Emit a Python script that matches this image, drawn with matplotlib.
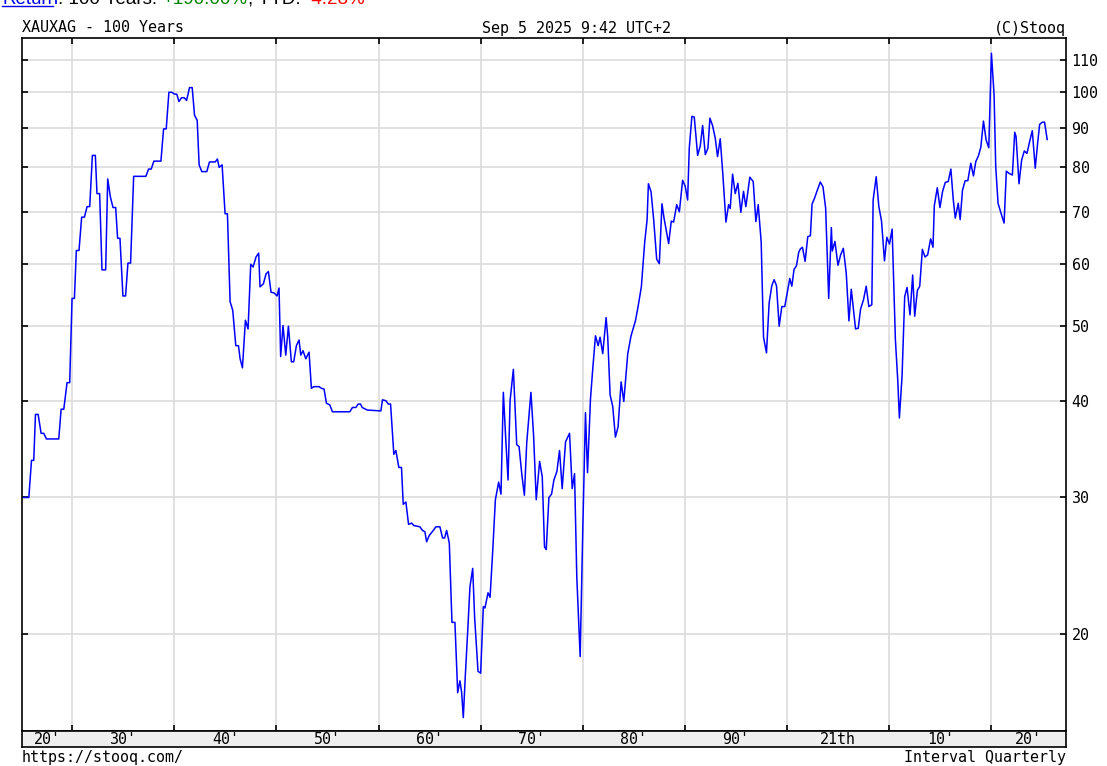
import matplotlib
matplotlib.use("Agg")
import matplotlib.pyplot as plt
from matplotlib.ticker import FixedLocator, NullLocator, FixedFormatter
from matplotlib.lines import Line2D

# ---------------- data ----------------
years = [
    1925.21, 1925.77, 1926.03, 1926.25, 1926.42, 1926.68, 1926.97, 1927.23, 1927.49, 1928.70,
    1928.93, 1929.19, 1929.51, 1929.77, 1930.00, 1930.23, 1930.42, 1930.68, 1930.94, 1931.21,
    1931.47, 1931.73, 1931.99, 1932.28, 1932.44, 1932.70, 1932.93, 1933.29, 1933.49, 1933.75,
    1934.01, 1934.27, 1934.46, 1934.69, 1934.98, 1935.24, 1935.47, 1935.73, 1936.03, 1937.23,
    1937.49, 1937.75, 1938.01, 1938.70, 1938.96, 1939.22, 1939.48, 1939.77, 1940.00, 1940.26,
    1940.46, 1940.72, 1940.98, 1941.21, 1941.50, 1941.76, 1941.99, 1942.25, 1942.44, 1942.70,
    1943.19, 1943.45, 1944.01, 1944.23, 1944.40, 1944.69, 1944.98, 1945.21, 1945.47, 1945.73,
    1946.03, 1946.29, 1946.45, 1946.68, 1946.97, 1947.23, 1947.49, 1947.72, 1948.01, 1948.27,
    1948.40, 1948.73, 1948.99, 1949.22, 1949.48, 1949.77,
    1950.07, 1950.26, 1950.42, 1950.65, 1950.92, 1951.18, 1951.47, 1951.70, 1951.96, 1952.22,
    1952.39, 1952.61, 1952.88, 1953.20, 1953.43, 1953.66, 1954.18, 1954.41, 1954.67, 1954.90,
    1955.23, 1955.49, 1957.19, 1957.45, 1957.78, 1958.01, 1958.24, 1958.40, 1958.73, 1958.92,
    1960.23, 1960.39, 1960.72, 1960.95, 1961.18, 1961.50, 1961.70, 1961.99, 1962.25, 1962.42,
    1962.68, 1962.94, 1963.24, 1963.46, 1964.05, 1964.31, 1964.54, 1964.71, 1964.97, 1965.36,
    1965.62, 1966.01, 1966.27, 1966.47, 1966.67, 1966.93, 1967.19, 1967.48, 1967.75, 1967.97,
    1968.14, 1968.30, 1968.50, 1968.76, 1968.95, 1969.22, 1969.41, 1969.74, 1970.00, 1970.26,
    1970.42, 1970.72, 1970.92, 1971.18, 1971.44, 1971.76, 1971.99, 1972.22, 1972.45, 1972.68,
    1972.88, 1973.20, 1973.53, 1973.76, 1974.02, 1974.28, 1974.51, 1974.92,
    1975.18, 1975.44, 1975.77, 1976.03, 1976.25, 1976.42, 1976.68, 1976.94, 1977.17, 1977.46,
    1977.72, 1977.98, 1978.31, 1978.70, 1978.96, 1979.19, 1979.41, 1979.74, 1980.00, 1980.26,
    1980.46, 1980.75, 1980.98, 1981.24, 1981.50, 1981.69, 1981.95, 1982.28, 1982.44, 1982.67,
    1982.93, 1983.19, 1983.45, 1983.75, 1984.01, 1984.40, 1984.72, 1985.15, 1985.41, 1985.73,
    1986.06, 1986.29, 1986.42, 1986.68, 1986.94, 1987.23, 1987.49, 1987.75, 1987.95, 1988.14,
    1988.40, 1988.66, 1988.89, 1989.19, 1989.45, 1989.77, 1990.03, 1990.26, 1990.42, 1990.68,
    1990.91, 1991.24, 1991.50, 1991.73, 1991.99, 1992.25, 1992.44, 1992.70, 1992.96, 1993.19,
    1993.45, 1993.71, 1994.01, 1994.27, 1994.43, 1994.66, 1994.92, 1995.18, 1995.47, 1995.73,
    1995.96, 1996.35, 1996.68, 1996.94, 1997.17, 1997.46, 1997.69, 1997.98, 1998.24, 1998.50,
    1998.73, 1998.96, 1999.22, 1999.48, 1999.77,
    2000.00, 2000.26, 2000.46, 2000.68, 2000.91, 2001.14, 2001.30, 2001.50, 2001.76, 2002.02,
    2002.28, 2002.44, 2002.70, 2002.96, 2003.25, 2003.51, 2003.77, 2004.07, 2004.33, 2004.42,
    2004.68, 2004.98, 2005.24, 2005.50, 2005.79, 2006.05, 2006.28, 2006.50, 2006.70, 2006.96,
    2007.19, 2007.48, 2007.74, 2008.00, 2008.29, 2008.42, 2008.72, 2008.98, 2009.24, 2009.53,
    2009.76, 2010.02, 2010.28, 2010.60, 2010.83, 2010.99, 2011.25, 2011.51, 2011.74, 2012.03,
    2012.29, 2012.49, 2012.75, 2012.98, 2013.24, 2013.50, 2013.76, 2014.05, 2014.28, 2014.41,
    2014.70, 2014.96, 2015.22, 2015.48, 2015.77, 2016.03, 2016.26, 2016.46, 2016.75, 2016.94,
    2017.17, 2017.43, 2017.69, 2017.98, 2018.24, 2018.47, 2018.73, 2018.96, 2019.22, 2019.48,
    2019.74, 2020.00, 2020.26, 2020.42, 2020.65, 2020.94, 2021.24, 2021.46, 2021.72, 2022.05,
    2022.28, 2022.41, 2022.70, 2022.96, 2023.22, 2023.48, 2023.74, 2024.00, 2024.29, 2024.52,
    2024.72, 2024.98, 2025.20, 2025.46,
]
ratio = [
    30.0, 30.0, 33.5, 33.5, 38.4, 38.4, 36.3, 36.3, 35.7, 35.7,
    39.0, 39.0, 42.2, 42.2, 54.2, 54.2, 62.5, 62.5, 69.0, 69.0,
    71.2, 71.2, 82.9, 82.9, 74.0, 74.0, 59.0, 59.0, 77.3, 73.3,
    71.0, 71.0, 64.8, 64.8, 54.6, 54.6, 60.2, 60.2, 77.9, 77.9,
    79.6, 79.6, 81.5, 81.5, 89.7, 89.7, 100.0, 100.0, 99.5, 99.4,
    97.3, 98.4, 98.4, 97.6, 101.4, 101.4, 93.4, 92.0, 80.6, 79.0,
    79.0, 81.3, 81.3, 82.0, 80.0, 80.6, 69.7, 69.7, 53.7, 52.3,
    47.1, 47.1, 45.3, 44.1, 50.8, 49.5, 60.0, 59.5, 61.3, 62.0,
    56.1, 56.6, 58.3, 58.7, 55.2, 55.1,
    54.6, 55.9, 45.6, 50.0, 45.8, 49.9, 44.9, 44.9, 47.1, 47.9,
    45.8, 46.4, 45.3, 46.2, 41.5, 41.7, 41.7, 41.5, 41.4, 39.7,
    39.5, 38.7, 38.7, 39.2, 39.2, 39.6, 39.6, 39.2, 39.0, 38.9,
    38.8, 40.1, 40.0, 39.6, 39.6, 34.1, 34.5, 32.8, 32.8, 29.4,
    29.6, 27.7, 27.8, 27.6, 27.5, 27.2, 27.1, 26.3, 26.8, 27.2,
    27.5, 27.5, 26.6, 26.6, 27.2, 26.2, 20.7, 20.7, 16.8, 17.4,
    16.8, 15.6, 17.7, 20.5, 23.0, 24.3, 21.0, 17.9, 17.8, 21.7,
    21.6, 22.6, 22.3, 25.6, 29.8, 31.4, 30.3, 41.0, 35.8, 31.6,
    40.0, 43.9, 35.1, 34.9, 32.2, 30.2, 35.3, 41.0,
    36.1, 29.8, 33.4, 31.9, 25.9, 25.7, 30.0, 30.3, 31.6, 32.4,
    34.5, 30.8, 35.4, 36.3, 30.8, 32.2, 23.7, 18.7, 27.4, 38.6,
    32.3, 40.2, 44.1, 48.5, 47.1, 48.3, 46.0, 51.2, 48.3, 40.7,
    39.3, 35.9, 37.0, 42.3, 39.9, 46.0, 48.5, 50.7, 52.9, 56.1,
    64.1, 68.4, 76.2, 74.4, 68.4, 60.9, 60.1, 71.8, 68.8, 66.6,
    63.8, 68.2, 68.0, 71.6, 70.1, 77.0, 75.6, 72.6, 84.7, 93.1,
    92.9, 82.9, 85.3, 90.6, 83.1, 84.7, 92.6, 90.6, 87.3, 82.6,
    87.1, 78.3, 68.0, 71.6, 70.8, 78.4, 74.0, 76.3, 70.0, 74.5,
    71.2, 77.7, 76.7, 68.1, 71.6, 64.1, 48.3, 46.1, 53.5, 56.3,
    57.3, 56.3, 49.9, 52.9, 52.9,
    55.0, 57.5, 56.2, 59.1, 59.7, 62.2, 62.8, 63.1, 60.5, 65.1,
    65.3, 71.7, 73.1, 74.8, 76.6, 75.5, 70.9, 54.2, 66.9, 62.4,
    64.2, 59.8, 61.7, 62.9, 58.4, 50.7, 55.7, 52.3, 49.5, 49.6,
    52.5, 54.0, 56.2, 52.9, 53.2, 72.6, 77.8, 71.2, 68.2, 60.6,
    65.0, 63.7, 66.6, 47.9, 42.5, 38.0, 43.0, 54.5, 56.0, 51.6,
    58.1, 51.4, 55.5, 56.2, 62.7, 61.3, 61.7, 64.7, 63.1, 71.4,
    75.3, 71.0, 74.5, 76.5, 76.7, 79.6, 72.8, 68.8, 71.9, 68.5,
    74.8, 76.9, 76.9, 81.0, 78.0, 81.4, 82.8, 84.9, 91.8, 86.8,
    84.8, 112.3, 99.2, 80.2, 71.9, 69.8, 67.8, 79.1, 78.6, 78.2,
    88.8, 87.7, 76.2, 81.8, 84.0, 83.4, 86.4, 89.2, 79.8, 85.9,
    90.9, 91.5, 91.5, 86.9,
]

y_ticks = [20, 30, 40, 50, 60, 70, 80, 90, 100, 110]
y_tick_labels = ["20", "30", "40", "50", "60", "70", "80", "90", "100", "110"]
decade_lines = [1930, 1940, 1950, 1960, 1970, 1980, 1990, 2000, 2010, 2020]
decade_starts = [1920, 1930, 1940, 1950, 1960, 1970, 1980, 1990, 2000, 2010, 2020]
decade_labels = ["20'", "30'", "40'", "50'", "60'", "70'", "80'", "90'", "21th", "10'", "20'"]

title_left = "XAUXAG - 100 Years"
title_mid = "Sep 5 2025 9:42 UTC+2"
title_right = "(C)Stooq"
foot_left = "https://stooq.com/"
foot_right = "Interval Quarterly"
summary_parts = ["Return", ": 100 Years: ", "+190.00%", ", YTD: ", "-4.28%"]
summary_colors = ["#0000ee", "black", "#008000", "black", "#ff0000"]

# ---------------- layout ----------------
W, H = 1107, 766
fig = plt.figure(figsize=(W / 100, H / 100), dpi=100)
fig.patch.set_facecolor("white")

mono = "DejaVu Sans Mono"
sans = "Liberation Sans"
fs = 10.8

L, R, T, B = 22, 1066, 38, 731
BAND_B = 747
ax = fig.add_axes([L / W, 1 - B / H, (R - L) / W, (B - T) / H])
band = fig.add_axes([L / W, 1 - BAND_B / H, (R - L) / W, (BAND_B - B) / H])

xmin, xmax = 1925.1, 2027.3
ax.plot(years, ratio, color="#0000ff", lw=1.1)
ax.set_yscale("log")
ax.set_xlim(xmin, xmax)
ax.set_ylim(14.99, 117.5)

ax.yaxis.set_major_locator(FixedLocator(y_ticks))
ax.yaxis.set_major_formatter(FixedFormatter(y_tick_labels))
ax.yaxis.set_minor_locator(NullLocator())
ax.xaxis.set_major_locator(FixedLocator(decade_lines))
ax.xaxis.set_minor_locator(NullLocator())

ax.grid(True, color="#dcdcdc", lw=1.2)
ax.set_axisbelow(True)
ax.tick_params(axis="y", which="both", left=True, right=True, labelleft=False,
               labelright=True, direction="in", length=4, width=1.2, pad=4,
               labelsize=fs, colors="black")
ax.tick_params(axis="x", which="both", top=True, bottom=True, labelbottom=False,
               direction="in", length=4, width=1.2)
for lab in ax.get_yticklabels():
    lab.set_fontfamily(mono)
for s in ax.spines.values():
    s.set_color("black")
    s.set_linewidth(1.2)

band.set_facecolor("#eeeeee")
band.set_xlim(xmin, xmax)
band.set_ylim(0, 1)
band.set_xticks([])
band.set_yticks([])
for s in band.spines.values():
    s.set_color("black")
    s.set_linewidth(1.2)
for start, lab in zip(decade_starts, decade_labels):
    a = max(start, xmin)
    b = min(start + 10, xmax)
    if b > a:
        band.text((a + b) / 2, 0.45, lab, ha="center", va="center",
                  fontfamily=mono, fontsize=fs, color="black")

# header & footer
fig.text(L / W, 1 - 32.5 / H, title_left, ha="left", va="baseline",
         fontfamily=mono, fontsize=fs)
fig.text(576 / W, 1 - 32.5 / H, title_mid, ha="center", va="baseline",
         fontfamily=mono, fontsize=fs)
fig.text(R / W, 1 - 32.5 / H, title_right, ha="right", va="baseline",
         fontfamily=mono, fontsize=fs)
fig.text(L / W, 1 - 762 / H, foot_left, ha="left", va="baseline",
         fontfamily=mono, fontsize=fs)
fig.text(R / W, 1 - 762 / H, foot_right, ha="right", va="baseline",
         fontfamily=mono, fontsize=fs)

# summary line, clipped at the top edge as in the original page capture
sfs = 13.5
anchor = fig.text(2 / W, 1 - 3.5 / H, summary_parts[0], ha="left", va="baseline",
                  fontfamily=sans, fontsize=sfs, color=summary_colors[0])
for txt, col in zip(summary_parts[1:], summary_colors[1:]):
    anchor = fig.text(0, 0, txt, ha="left", va="baseline", fontfamily=sans,
                      fontsize=sfs, color=col,
                      transform=matplotlib.transforms.offset_copy(
                          fig.transFigure, fig=fig, x=0, y=0))
    anchor.remove()
# chain the pieces side by side using annotations anchored on the previous piece
prev = [t for t in fig.texts if t.get_text() == summary_parts[0]][0]
for txt, col in zip(summary_parts[1:], summary_colors[1:]):
    prev = fig.add_artist(matplotlib.text.Annotation(
        txt, xy=(1, 0), xycoords=prev, xytext=(0, 0), textcoords="offset points",
        va="bottom", ha="left", fontfamily=sans, fontsize=sfs, color=col))
fig.add_artist(Line2D([2 / W, 53 / W], [1 - 5.5 / H, 1 - 5.5 / H],
                      color="#0000ee", lw=1))

fig.savefig("out.png", dpi=100)
